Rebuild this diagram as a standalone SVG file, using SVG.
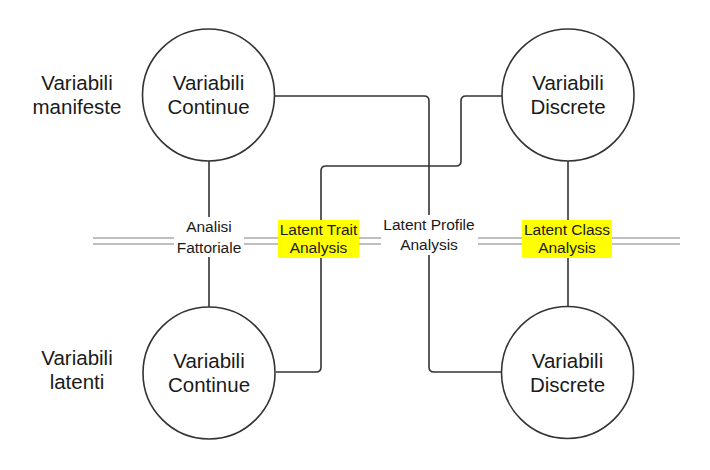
<svg xmlns="http://www.w3.org/2000/svg" width="710" height="470" viewBox="0 0 710 470">
<style>
.node circle{fill:#fff;stroke:#333;stroke-width:1.6}
text{font-family:"Liberation Sans",Arial,sans-serif;fill:#1a1a1a;text-anchor:middle}
.nt{font-size:20.5px}
.lt{font-size:15.5px}
.conn path{fill:none;stroke:#333;stroke-width:1.6}
.dbl{fill:none;stroke:#aaa;stroke-width:1.6}
.bgw{fill:#fff}
.bgy{fill:#ffff00}
</style>
<rect width="710" height="470" fill="#fff"/>
<g id="axis">
<path class="dbl" d="M93,238 H680 M93,244 H680"/>
</g>
<g class="conn" id="connectors">
<path d="M275,96 H424 Q429,96 429,101 V367 Q429,372 434,372 H501"/>
<path d="M502,96 H466 Q461,96 461,101 V161 Q461,166 456,166 H326 Q321,166 321,171 V367 Q321,372 316,372 H276"/>
<path d="M209,161 V307"/>
<path d="M568,161 V307"/>
</g>
<g id="label-af">
<rect class="bgw" x="174" y="217" width="70" height="40"/>
<text class="lt" x="209" y="232">Analisi</text>
<text class="lt" x="209" y="253">Fattoriale</text>
</g>
<g id="label-lta">
<rect class="bgy" x="278" y="220" width="81" height="38"/>
<text class="lt" x="318.5" y="235">Latent Trait</text>
<text class="lt" x="318.5" y="253">Analysis</text>
</g>
<g id="label-lpa">
<rect class="bgw" x="381" y="215" width="97" height="40"/>
<text class="lt" x="429" y="230">Latent Profile</text>
<text class="lt" x="429" y="250">Analysis</text>
</g>
<g id="label-lca">
<rect class="bgy" x="522" y="220" width="90" height="38"/>
<text class="lt" x="567" y="235">Latent Class</text>
<text class="lt" x="567" y="253">Analysis</text>
</g>
<g id="n-tl" class="node">
<circle cx="208.5" cy="95" r="66"/>
<text class="nt" x="208.5" y="90">Variabili</text>
<text class="nt" x="208.5" y="114">Continue</text>
</g>
<g id="n-tr" class="node">
<circle cx="568" cy="95" r="66"/>
<text class="nt" x="568" y="90">Variabili</text>
<text class="nt" x="568" y="114">Discrete</text>
</g>
<g id="n-bl" class="node">
<circle cx="209" cy="373" r="66"/>
<text class="nt" x="209" y="368">Variabili</text>
<text class="nt" x="209" y="392">Continue</text>
</g>
<g id="n-br" class="node">
<circle cx="567.5" cy="372.5" r="66"/>
<text class="nt" x="567.5" y="368">Variabili</text>
<text class="nt" x="567.5" y="392">Discrete</text>
</g>
<g id="row-manifeste">
<text class="nt" x="77" y="90">Variabili</text>
<text class="nt" x="77" y="114">manifeste</text>
</g>
<g id="row-latenti">
<text class="nt" x="77" y="365">Variabili</text>
<text class="nt" x="77" y="389">latenti</text>
</g>
</svg>
